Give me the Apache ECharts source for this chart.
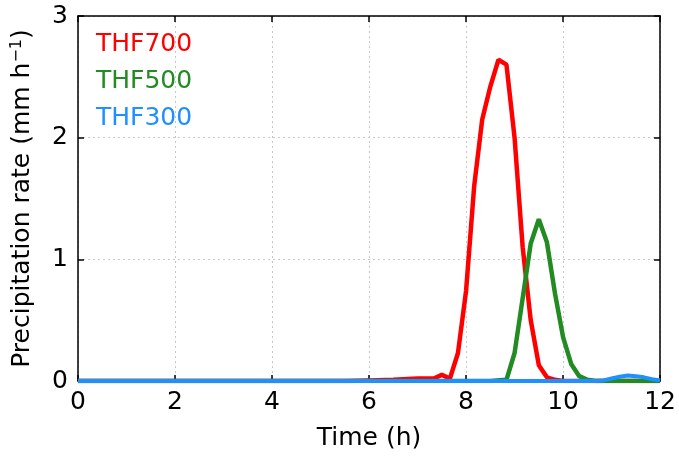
<!DOCTYPE html>
<html>
<head>
<meta charset="utf-8">
<script src="https://cdn.jsdelivr.net/npm/echarts@6/dist/echarts.min.js"></script>
<style>
html,body{margin:0;padding:0;background:#fff;}
#chart{width:679px;height:457px;}
</style>
</head>
<body>
<div id="chart"></div>
<script>
// Data (time in hours, precipitation rate in mm/h)
var hoursRed = [0, 5.5, 6, 6.5, 7, 7.333, 7.5, 7.667, 7.833, 8, 8.167, 8.333, 8.5, 8.667, 8.833, 9, 9.167, 9.333, 9.5, 9.667, 9.833, 10, 12];
var rateRed  = [0, 0, 0.005, 0.01, 0.02, 0.02, 0.05, 0.02, 0.23, 0.74, 1.6, 2.15, 2.42, 2.64, 2.6, 2.0, 1.1, 0.5, 0.13, 0.03, 0.01, 0, 0];

var hoursGreen = [0, 8.5, 8.833, 9, 9.167, 9.333, 9.5, 9.667, 9.833, 10, 10.167, 10.333, 10.5, 10.667, 12];
var rateGreen  = [0, 0, 0.01, 0.23, 0.68, 1.13, 1.33, 1.14, 0.72, 0.36, 0.14, 0.04, 0.01, 0, 0];

var hoursBlue = [0, 10.667, 10.833, 11, 11.167, 11.333, 11.5, 11.667, 11.833, 12];
var rateBlue  = [0, 0, 0.005, 0.02, 0.035, 0.045, 0.04, 0.03, 0.015, 0.005];

var seriesNames = ['THF700', 'THF500', 'THF300'];
var seriesColors = ['#ff0000', '#228b22', '#1e90ff'];
var xTicks = [0, 2, 4, 6, 8, 10, 12];
var yTicks = [0, 1, 2, 3];

function pairs(xs, ys) { return xs.map(function (x, i) { return [x, ys[i]]; }); }

var FONT = 'DejaVu Sans';
var FS = 25;

var chart = echarts.init(document.getElementById('chart'), null, {renderer: 'canvas'});

var gridLine = {show: true, lineStyle: {color: '#c8c8c8', width: 1, type: [2, 3]}};
var spine = {show: true, onZero: false, lineStyle: {color: '#000', width: 1.5}};
var ticks = {show: true, inside: true, length: 6, lineStyle: {color: '#000', width: 1.5}};

var option = {
  backgroundColor: '#ffffff',
  animation: false,
  textStyle: {fontFamily: FONT},
  grid: {left: 78, right: 16, top: 16, bottom: 76, show: false},
  legend: {
    orient: 'vertical',
    left: 86,
    top: 26,
    icon: 'none',
    itemWidth: 0,
    itemHeight: 20,
    itemGap: 11,
    selectedMode: false,
    textStyle: {fontFamily: FONT, fontSize: FS, lineHeight: 26},
    data: seriesNames.map(function (n, i) { return {name: n, textStyle: {color: seriesColors[i]}}; })
  },
  xAxis: [{
    type: 'value', min: xTicks[0], max: xTicks[xTicks.length - 1], interval: 2,
    name: 'Time (h)', nameLocation: 'middle', nameGap: 45,
    nameTextStyle: {fontFamily: FONT, fontSize: FS, color: '#000'},
    axisLine: spine, axisTick: ticks,
    axisLabel: {fontFamily: FONT, fontSize: FS, color: '#000', margin: 9},
    splitLine: gridLine
  }, {
    type: 'value', position: 'top', min: xTicks[0], max: xTicks[xTicks.length - 1], interval: 2,
    axisLine: spine, axisTick: ticks,
    axisLabel: {show: false}, splitLine: {show: false}
  }],
  yAxis: [{
    type: 'value', min: yTicks[0], max: yTicks[yTicks.length - 1], interval: 1,
    name: 'Precipitation rate (mm h{sup|\u22121})', nameLocation: 'middle', nameGap: 43, nameRotate: 90,
    nameTextStyle: {fontFamily: FONT, fontSize: FS, color: '#000',
      rich: {sup: {fontFamily: FONT, fontSize: 16, color: '#000', verticalAlign: 'top', padding: [0, 0, 10, 0]}}},
    axisLine: spine, axisTick: ticks,
    axisLabel: {fontFamily: FONT, fontSize: FS, color: '#000', margin: 10},
    splitLine: gridLine
  }, {
    type: 'value', position: 'right', min: yTicks[0], max: yTicks[yTicks.length - 1], interval: 1,
    axisLine: spine, axisTick: ticks,
    axisLabel: {show: false}, splitLine: {show: false}
  }],
  series: [
    {name: seriesNames[0], type: 'line', data: pairs(hoursRed, rateRed), showSymbol: false, symbol: 'none',
     lineStyle: {color: seriesColors[0], width: 4.5}, itemStyle: {color: seriesColors[0]}, z: 3},
    {name: seriesNames[1], type: 'line', data: pairs(hoursGreen, rateGreen), showSymbol: false, symbol: 'none',
     lineStyle: {color: seriesColors[1], width: 4.5}, itemStyle: {color: seriesColors[1]}, z: 4},
    {name: seriesNames[2], type: 'line', data: pairs(hoursBlue, rateBlue), showSymbol: false, symbol: 'none',
     lineStyle: {color: seriesColors[2], width: 4}, itemStyle: {color: seriesColors[2]}, z: 5}
  ]
};
chart.setOption(option);
</script>
</body>
</html>
